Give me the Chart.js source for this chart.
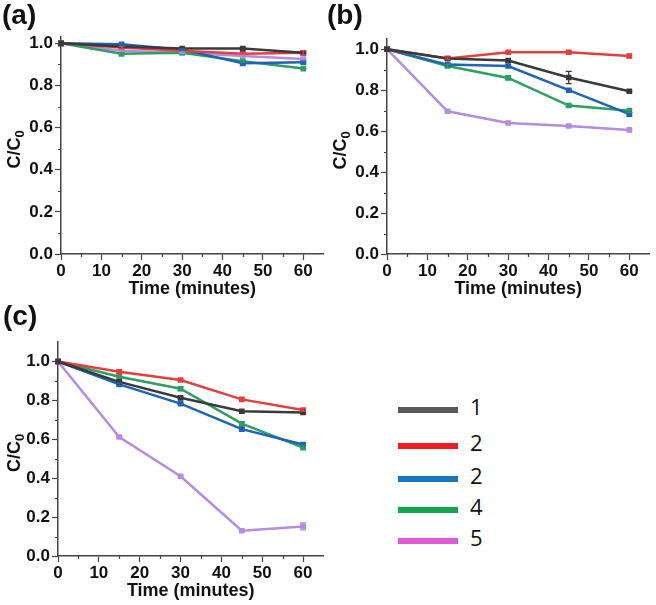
<!DOCTYPE html>
<html><head><meta charset="utf-8">
<script src="https://cdn.jsdelivr.net/npm/chart.js@4.4.1/dist/chart.umd.min.js"></script>
<style>
html,body{margin:0;padding:0;background:#fff;}
body{width:656px;height:605px;position:relative;overflow:hidden;font-family:"Liberation Sans",Arial,sans-serif;}
canvas{position:absolute;}
.lab{position:absolute;font-weight:bold;font-size:28px;line-height:28px;color:#111;}
.ln{position:absolute;height:6px;width:60px;}
.tx{position:absolute;font-size:22px;line-height:22px;color:#111;font-family:"Open Sans","Liberation Sans",sans-serif;}
</style></head><body>
<canvas id="ca" width="330" height="300" style="left:0;top:0"></canvas>
<canvas id="cb" width="330" height="300" style="left:326px;top:0"></canvas>
<canvas id="cc" width="330" height="305" style="left:0;top:300px"></canvas>
<div class="lab" style="left:2px;top:1px">(a)</div>
<div class="lab" style="left:327px;top:1px">(b)</div>
<div class="lab" style="left:3px;top:302px">(c)</div>
<div id="legend"></div>
<script>
// ---- data ----
const times = [0, 15, 30, 45, 60];
const seriesNames = ['1', '2', '2', '4', '5'];
const lineColors = ['#3a3a3a', '#e2403e', '#1e64b4', '#2e9e62', '#b48ce0'];
const legendColors = ['#58585a', '#ee1c24', '#1b75bc', '#12a54e', '#e05ad8'];
const yTickLabels = ['0.0', '0.2', '0.4', '0.6', '0.8', '1.0'];
const xTickLabels = ['0', '10', '20', '30', '40', '50', '60'];

// panel (a)
const a1 = [1.0, 0.985, 0.975, 0.975, 0.955];
const a2 = [1.0, 0.980, 0.965, 0.950, 0.955];
const a3 = [1.0, 0.995, 0.970, 0.905, 0.910];
const a4 = [1.0, 0.950, 0.955, 0.915, 0.880];
const a5 = [1.0, 0.965, 0.955, 0.940, 0.925];
const aErr1 = [0, 0.004, 0.005, 0.006, 0.005];
const aErr2 = [0, 0.005, 0.004, 0.005, 0.010];
const aErr3 = [0, 0.003, 0.004, 0.008, 0.006];
const aErr4 = [0, 0.004, 0.003, 0.004, 0.003];
const aErr5 = [0, 0.003, 0.003, 0.003, 0.004];

// panel (b)
const b1 = [1.0, 0.955, 0.945, 0.862, 0.795];
const b2 = [1.0, 0.955, 0.985, 0.985, 0.967];
const b3 = [1.0, 0.925, 0.918, 0.800, 0.683];
const b4 = [1.0, 0.918, 0.860, 0.725, 0.700];
const b5 = [1.0, 0.697, 0.640, 0.625, 0.606];
const bErr1 = [0, 0.005, 0.005, 0.030, 0.004];
const bErr2 = [0, 0.006, 0.003, 0.006, 0.008];
const bErr3 = [0, 0.004, 0.004, 0.006, 0.008];
const bErr4 = [0, 0.008, 0.008, 0.005, 0.008];
const bErr5 = [0, 0.004, 0.003, 0.003, 0.003];

// panel (c)
const c1 = [1.0, 0.895, 0.813, 0.744, 0.738];
const c2 = [1.0, 0.947, 0.905, 0.805, 0.750];
const c3 = [1.0, 0.882, 0.783, 0.652, 0.573];
const c4 = [1.0, 0.921, 0.860, 0.680, 0.557];
const c5 = [1.0, 0.612, 0.410, 0.130, 0.152];
const cErr1 = [0, 0.004, 0.004, 0.003, 0.004];
const cErr2 = [0, 0.010, 0.004, 0.006, 0.006];
const cErr3 = [0, 0.006, 0.004, 0.008, 0.010];
const cErr4 = [0, 0.006, 0.010, 0.010, 0.008];
const cErr5 = [0, 0.004, 0.003, 0.003, 0.018];

const AXIS = '#444';
const FONT = "'Liberation Sans', Arial, sans-serif";

const extrasPlugin = {
  id: 'extras',
  afterDatasetsDraw(chart) {
    const ctx = chart.ctx, ys = chart.scales.y;
    const errs = chart.options.plugins.extras.errors;
    ctx.save();
    chart.data.datasets.forEach((ds, i) => {
      const meta = chart.getDatasetMeta(i);
      ctx.strokeStyle = ds.borderColor;
      ctx.lineWidth = 1.3;
      meta.data.forEach((pt, j) => {
        const e = errs[i][j];
        if (!e) return;
        const v = ds.data[j].y;
        const y1 = ys.getPixelForValue(v - e), y2 = ys.getPixelForValue(v + e);
        ctx.beginPath();
        ctx.moveTo(pt.x, y1); ctx.lineTo(pt.x, y2);
        ctx.moveTo(pt.x - 3, y1); ctx.lineTo(pt.x + 3, y1);
        ctx.moveTo(pt.x - 3, y2); ctx.lineTo(pt.x + 3, y2);
        ctx.stroke();
      });
    });
    ctx.restore();
  },
  afterDraw(chart) {
    const ctx = chart.ctx, xs = chart.scales.x, ys = chart.scales.y, ca = chart.chartArea;
    ctx.save();
    // minor ticks
    ctx.strokeStyle = AXIS; ctx.lineWidth = 1.2;
    ctx.beginPath();
    for (let k = 0; k < yTickLabels.length - 1; k++) {
      const v = parseFloat(yTickLabels[k]) + 0.1;
      const p = Math.round(ys.getPixelForValue(v)) + 0.5;
      ctx.moveTo(ca.left - 3, p); ctx.lineTo(ca.left, p);
    }
    for (let k = 0; k < xTickLabels.length - 1; k++) {
      const v = parseFloat(xTickLabels[k]) + 5;
      const p = Math.round(xs.getPixelForValue(v)) + 0.5;
      ctx.moveTo(p, ca.bottom); ctx.lineTo(p, ca.bottom + 3);
    }
    ctx.stroke();
    // axis titles
    ctx.fillStyle = '#111';
    ctx.font = 'bold 18px ' + FONT;
    ctx.textAlign = 'center';
    ctx.textBaseline = 'alphabetic';
    ctx.fillText('Time (minutes)', (ca.left + ca.right) / 2, ca.bottom + 40);
    const cy = (ca.top + ca.bottom) / 2 + 4;
    ctx.translate(20, cy);
    ctx.rotate(-Math.PI / 2);
    ctx.font = 'bold 18px ' + FONT;
    const w1 = ctx.measureText('C/C').width;
    ctx.font = 'bold 13px ' + FONT;
    const w2 = ctx.measureText('0').width;
    const start = -(w1 + w2) / 2;
    ctx.textAlign = 'left';
    ctx.font = 'bold 18px ' + FONT;
    ctx.fillText('C/C', start, 0);
    ctx.font = 'bold 13px ' + FONT;
    ctx.fillText('0', start + w1, 4);
    ctx.restore();
  }
};

function makeChart(id, series, errors, cfg) {
  const datasets = series.map((vals, i) => ({
    label: seriesNames[i],
    data: times.map((t, j) => ({ x: t, y: vals[j] })),
    borderColor: lineColors[i],
    backgroundColor: lineColors[i],
    borderWidth: 2.5,
    pointRadius: 2.2,
    pointStyle: 'rect',
    tension: 0,
    clip: false
  }));
  return new Chart(document.getElementById(id), {
    type: 'line',
    data: { datasets },
    options: {
      responsive: false,
      animation: false,
      devicePixelRatio: 1,
      layout: { padding: { top: cfg.top, right: cfg.right, left: 0, bottom: 0 } },
      plugins: { legend: { display: false }, tooltip: { enabled: false }, extras: { errors } },
      scales: {
        x: {
          type: 'linear', min: 0, max: 65,
          afterBuildTicks(ax) { ax.ticks = xTickLabels.map(s => ({ value: parseFloat(s) })); },
          afterFit(ax) { ax.height = cfg.xh; },
          ticks: { color: '#111', font: { family: FONT, size: 17, weight: 'bold' }, padding: 1,
                   maxRotation: 0, autoSkip: false, callback: v => String(v) },
          grid: { drawOnChartArea: false, drawTicks: true, tickLength: 6, tickColor: AXIS, tickWidth: 1.2 },
          border: { display: true, color: AXIS, width: 1.5 }
        },
        y: {
          type: 'linear', min: 0, max: cfg.ymax,
          afterBuildTicks(ax) { ax.ticks = yTickLabels.map(s => ({ value: parseFloat(s) })); },
          afterFit(ax) { ax.width = cfg.yw; },
          ticks: { color: '#111', font: { family: FONT, size: 17, weight: 'bold' }, padding: 2,
                   autoSkip: false, callback: v => Number(v).toFixed(1) },
          grid: { drawOnChartArea: false, drawTicks: true, tickLength: 6, tickColor: AXIS, tickWidth: 1.2 },
          border: { display: true, color: AXIS, width: 1.5 }
        }
      }
    },
    plugins: [extrasPlugin]
  });
}

makeChart('ca', [a1, a2, a3, a4, a5], [aErr1, aErr2, aErr3, aErr4, aErr5],
  { top: 37, right: 3, yw: 61, xh: 46, ymax: 1.03 });
makeChart('cb', [b1, b2, b3, b4, b5], [bErr1, bErr2, bErr3, bErr4, bErr5],
  { top: 39, right: 2, yw: 61, xh: 46, ymax: 1.05 });
makeChart('cc', [c1, c2, c3, c4, c5], [cErr1, cErr2, cErr3, cErr4, cErr5],
  { top: 42, right: 6, yw: 58, xh: 49, ymax: 1.1 });

// legend
const lg = document.getElementById('legend');
const lgTop = [410, 446, 479, 510, 541];
seriesNames.forEach((n, i) => {
  const ln = document.createElement('div');
  ln.className = 'ln';
  ln.style.left = '398px';
  ln.style.top = (lgTop[i] - 3) + 'px';
  ln.style.background = legendColors[i];
  lg.appendChild(ln);
  const tx = document.createElement('div');
  tx.className = 'tx';
  tx.style.left = '470px';
  tx.style.top = (lgTop[i] - 15) + 'px';
  tx.textContent = n;
  lg.appendChild(tx);
});
</script>
</body></html>
